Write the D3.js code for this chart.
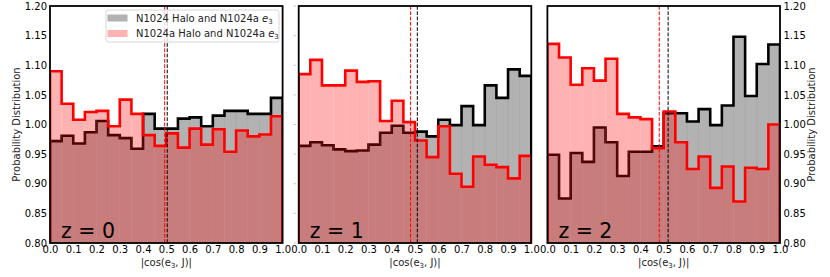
<!DOCTYPE html>
<html>
<head>
<meta charset="utf-8">
<script src="https://cdn.jsdelivr.net/npm/d3@7"></script>
<style>
  body { margin: 0; background: #fff; }
  svg { display: block; font-family: "DejaVu Sans", sans-serif; }
</style>
</head>
<body>
<svg width="830" height="277"></svg>
<script>
// bin edges of the histograms, 20 bins of 0.05
var binEdges = [0.0, 0.05, 0.1, 0.15, 0.2, 0.25, 0.3, 0.35, 0.4, 0.45, 0.5,
                0.55, 0.6, 0.65, 0.7, 0.75, 0.8, 0.85, 0.9, 0.95, 1.0];
var xTicks = [0.0, 0.1, 0.2, 0.3, 0.4, 0.5, 0.6, 0.7, 0.8, 0.9, 1.0];
var yTicks = [0.80, 0.85, 0.90, 0.95, 1.00, 1.05, 1.10, 1.15, 1.20];

// N1024 Halo and N1024a e3 (grey)
var blackZ0 = [0.972, 0.981, 0.968, 0.987, 1.006, 0.982, 0.977, 0.959, 1.018, 0.993,
               0.993, 1.010, 1.012, 0.997, 1.015, 1.023, 1.023, 1.018, 1.018, 1.045];
var blackZ1 = [0.964, 0.970, 0.965, 0.958, 0.955, 0.956, 0.966, 0.986, 0.998, 0.986,
               0.988, 0.980, 1.008, 0.999, 1.031, 0.999, 1.066, 1.045, 1.093, 1.082];
var blackZ2 = [0.949, 0.875, 0.952, 0.937, 0.995, 0.970, 0.913, 0.954, 0.954, 0.963,
               1.019, 1.019, 1.005, 1.026, 0.999, 1.032, 1.148, 1.048, 1.102, 1.135];
// N1024a Halo and N1024a e3 (red)
var redZ0 = [1.090, 1.035, 1.008, 1.021, 1.023, 0.997, 1.042, 1.018, 0.982, 0.964,
             0.985, 0.961, 0.993, 0.966, 0.992, 0.954, 0.990, 0.980, 0.983, 1.014];
var redZ1 = [1.085, 1.109, 1.066, 1.066, 1.091, 1.072, 1.073, 1.006, 1.040, 1.004,
             0.973, 0.945, 0.997, 0.917, 0.895, 0.946, 0.932, 0.928, 0.909, 0.947];
var redZ2 = [1.136, 1.113, 1.067, 1.095, 1.074, 1.111, 1.018, 1.012, 1.009, 0.960,
             1.022, 0.970, 0.925, 0.946, 0.893, 0.929, 0.870, 0.927, 0.925, 1.000];

// means (dashed lines)
var meanBlack = [0.504, 0.510, 0.519];
var meanRed = [0.493, 0.481, 0.481];
var zLabels = ["z = 0", "z = 1", "z = 2"];

var blackSeries = [blackZ0, blackZ1, blackZ2];
var redSeries = [redZ0, redZ1, redZ2];

var svg = d3.select("svg");
var plotTop = 6, plotBottom = 243, pw = 232.6;
var panelLeft = [50, 298.7, 547.4];

var y = d3.scaleLinear().domain([0.8, 1.2]).range([plotBottom, plotTop]);

function stepPath(x, vals) {
  // outline like matplotlib histtype="step"
  var p = d3.path();
  p.moveTo(x(binEdges[0]), plotBottom + 5);
  for (var i = 0; i < vals.length; i++) {
    p.lineTo(x(binEdges[i]), y(vals[i]));
    p.lineTo(x(binEdges[i + 1]), y(vals[i]));
  }
  p.lineTo(x(binEdges[binEdges.length - 1]), plotBottom + 5);
  return p.toString();
}

for (var k = 0; k < 3; k++) {
  var x = d3.scaleLinear().domain([0, 1]).range([panelLeft[k], panelLeft[k] + pw]);

  svg.append("clipPath").attr("id", "clip" + k)
    .append("rect")
    .attr("x", panelLeft[k]).attr("y", plotTop)
    .attr("width", pw).attr("height", plotBottom - plotTop);

  var g = svg.append("g").attr("clip-path", "url(#clip" + k + ")");

  var bins = d3.range(blackSeries[k].length);

  // grey bars
  g.selectAll(".bk")
    .data(bins)
    .enter().append("rect")
      .attr("x", function(i) { return x(binEdges[i]); })
      .attr("y", function(i) { return y(blackSeries[k][i]); })
      .attr("width", function(i) { return x(binEdges[i + 1]) - x(binEdges[i]); })
      .attr("height", function(i) { return plotBottom + 5 - y(blackSeries[k][i]); })
      .attr("fill", "#000")
      .attr("fill-opacity", 0.3)
      .attr("stroke", "#000")
      .attr("stroke-opacity", 0.04)
      .attr("stroke-width", 0.8);

  g.append("path")
    .attr("d", stepPath(x, blackSeries[k]))
    .attr("fill", "none")
    .attr("stroke", "#000")
    .attr("stroke-width", 2.6)
    .attr("stroke-linejoin", "miter");

  // red bars, on top
  g.selectAll(".rd")
    .data(bins)
    .enter().append("rect")
      .attr("x", function(i) { return x(binEdges[i]); })
      .attr("y", function(i) { return y(redSeries[k][i]); })
      .attr("width", function(i) { return x(binEdges[i + 1]) - x(binEdges[i]); })
      .attr("height", function(i) { return plotBottom + 5 - y(redSeries[k][i]); })
      .attr("fill", "#ff0000")
      .attr("fill-opacity", 0.3)
      .attr("stroke", "#fff")
      .attr("stroke-opacity", 0.06)
      .attr("stroke-width", 0.8);

  g.append("path")
    .attr("d", stepPath(x, redSeries[k]))
    .attr("fill", "none")
    .attr("stroke", "#ff0000")
    .attr("stroke-width", 2.6)
    .attr("stroke-linejoin", "miter");

  // mean lines
  g.append("line")
    .attr("x1", x(meanRed[k])).attr("x2", x(meanRed[k]))
    .attr("y1", plotTop).attr("y2", plotBottom)
    .attr("stroke", "#ff0000").attr("stroke-width", 1)
    .attr("stroke-dasharray", "3.7,1.6");
  g.append("line")
    .attr("x1", x(meanBlack[k])).attr("x2", x(meanBlack[k]))
    .attr("y1", plotTop).attr("y2", plotBottom)
    .attr("stroke", "#000").attr("stroke-width", 1)
    .attr("stroke-dasharray", "3.7,1.6");

  // z label
  svg.append("text")
    .attr("x", panelLeft[k] + 11)
    .attr("y", plotBottom - 5)
    .attr("font-size", 20.5)
    .attr("fill", "#000")
    .text(zLabels[k]);

  // x axis
  var xa = svg.append("g")
    .attr("transform", "translate(0," + plotBottom + ")")
    .call(d3.axisBottom(x).tickValues(xTicks).tickSize(0).tickPadding(3)
      .tickFormat(d3.format(".1f")));
  xa.select(".domain").remove();
  xa.selectAll("text").attr("font-size", 10).attr("fill", "#000")
    .attr("font-family", "DejaVu Sans");

  var xl = svg.append("text")
    .attr("x", panelLeft[k] + pw / 2)
    .attr("y", 266)
    .attr("text-anchor", "middle")
    .attr("font-size", 10)
    .attr("fill", "#222");
  xl.append("tspan").text("|cos(e");
  xl.append("tspan").attr("font-size", 7).attr("dy", 2).text("3");
  xl.append("tspan").attr("dy", -2).text(",  J)|");

  // y axis
  if (k == 0) {
    var ya = svg.append("g")
      .attr("transform", "translate(" + panelLeft[k] + ",0)")
      .call(d3.axisLeft(y).tickValues(yTicks).tickSize(0).tickPadding(3)
        .tickFormat(d3.format(".2f")));
    ya.select(".domain").remove();
    ya.selectAll("text").attr("font-size", 10).attr("fill", "#000")
      .attr("font-family", "DejaVu Sans");
    svg.append("text")
      .attr("transform", "translate(20," + ((plotTop + plotBottom) / 2) + ") rotate(-90)")
      .attr("text-anchor", "middle")
      .attr("font-size", 10)
      .attr("fill", "#222")
      .text("Probability Distribution");
  } else if (k == 2) {
    var yr = svg.append("g")
      .attr("transform", "translate(" + (panelLeft[k] + pw) + ",0)")
      .call(d3.axisRight(y).tickValues(yTicks).tickSize(0).tickPadding(3.5)
        .tickFormat(d3.format(".2f")));
    yr.select(".domain").remove();
    yr.selectAll("text").attr("font-size", 10).attr("fill", "#000")
      .attr("font-family", "DejaVu Sans");
    svg.append("text")
      .attr("transform", "translate(815," + ((plotTop + plotBottom) / 2) + ") rotate(-90)")
      .attr("text-anchor", "middle")
      .attr("font-size", 10)
      .attr("fill", "#222")
      .text("Probability Distribution");
  } else {
    // middle panel only has faint tick marks
    svg.append("g").selectAll("line")
      .data(yTicks)
      .enter().append("line")
        .attr("x1", panelLeft[k] - 5).attr("x2", panelLeft[k] - 3)
        .attr("y1", function(d) { return y(d); })
        .attr("y2", function(d) { return y(d); })
        .attr("stroke", "#aaa").attr("stroke-width", 0.8);
  }

  // frame
  svg.append("rect")
    .attr("x", panelLeft[k]).attr("y", plotTop)
    .attr("width", pw).attr("height", plotBottom - plotTop)
    .attr("fill", "none")
    .attr("stroke", "#000")
    .attr("stroke-width", 1.8);
}

// legend in the first panel
var legendItems = [
  {name: "N1024 Halo and N1024a ", color: "#000"},
  {name: "N1024a Halo and N1024a ", color: "#ff0000"}
];
var lg = svg.append("g").attr("transform", "translate(106,10)");
lg.append("rect")
  .attr("width", 173).attr("height", 32)
  .attr("rx", 2.5)
  .attr("fill", "#fff").attr("fill-opacity", 0.8)
  .attr("stroke", "#ccc").attr("stroke-width", 0.8);
legendItems.forEach(function(d, i) {
  lg.append("rect")
    .attr("x", 1.5).attr("y", 4.5 + i * 15.5)
    .attr("width", 20).attr("height", 7)
    .attr("fill", d.color).attr("fill-opacity", 0.3);
  var t = lg.append("text")
    .attr("x", 30).attr("y", 11.5 + i * 15.5)
    .attr("font-size", 10)
    .attr("fill", "#222");
  t.append("tspan").text(d.name);
  t.append("tspan").attr("font-style", "italic").text("e");
  t.append("tspan").attr("font-size", 7).attr("dy", 2).text("3");
});
</script>
</body>
</html>
